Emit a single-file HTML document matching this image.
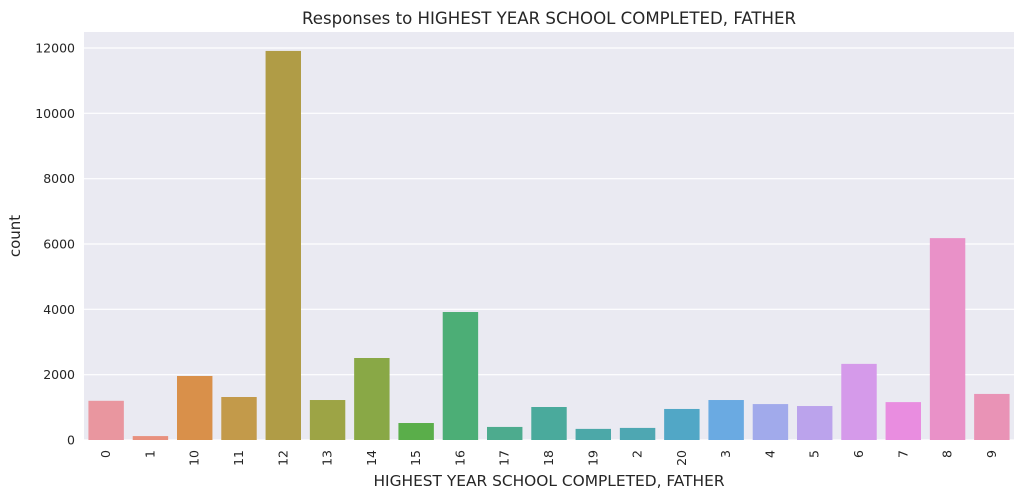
<!DOCTYPE html>
<html><head><meta charset="utf-8"><style>
body{margin:0;background:#fff;font-family:"Liberation Sans","DejaVu Sans",sans-serif;}
svg text{font-family:"DejaVu Sans","Liberation Sans",sans-serif;}
</style></head><body>
<svg id="chart" width="1024" height="498" xmlns="http://www.w3.org/2000/svg">
<rect x="84" y="32" width="930" height="408" fill="#eaeaf2"/>
<g id="grid"></g><g id="bars"></g><g id="xt"></g><g id="yt"></g>
<text x="549" y="24" text-anchor="middle" font-size="16.6" fill="#262626">Responses to HIGHEST YEAR SCHOOL COMPLETED, FATHER</text>
<text x="549" y="486" text-anchor="middle" font-size="15.4" fill="#262626">HIGHEST YEAR SCHOOL COMPLETED, FATHER</text>
<text transform="translate(20,236) rotate(-90)" text-anchor="middle" font-size="15" fill="#262626">count</text>
</svg>
<script>
const categories=["0","1","10","11","12","13","14","15","16","17","18","19","2","20","3","4","5","6","7","8","9"];
const counts=[1200,120,1960,1316,11910,1224,2510,520,3918,400,1010,340,370,950,1224,1100,1040,2330,1160,6180,1410];
const colors=["#e9969f","#e8907e","#d9904a","#c39a4a","#b09c46","#9da445","#89a846","#5aae4a","#4cae76","#4dab8e","#4aaa9c","#4ca8a8","#4ea7b2","#51a7c6","#6aaae2","#a1aaeb","#bba3ec","#d59aea","#e98de0","#e991c8","#e993b6"];
const yTicks=[0,2000,4000,6000,8000,10000,12000];
const NS="http://www.w3.org/2000/svg";
const x0=84,pw=930,y0=440,ph=392,ymax=12000;
const band=pw/categories.length;
const xs=i=>x0+band*i;
const ys=v=>y0-v/ymax*ph;
function mk(t,a,p){const e=document.createElementNS(NS,t);for(const k in a)e.setAttribute(k,a[k]);document.getElementById(p).appendChild(e);return e;}
yTicks.forEach(v=>{
 const l=mk("line",{x1:x0,x2:x0+pw,y1:ys(v),y2:ys(v),stroke:"#fff","stroke-width":1.2},"grid");
 
 
 const t=mk("text",{x:x0-9,y:ys(v)+4.5,"text-anchor":"end","font-size":12.5,fill:"#262626"},"yt");
 t.textContent=v;
 
 
});
categories.forEach((c,i)=>{
 const w=band*0.8;
 const r=mk("rect",{x:xs(i)+band*0.1,y:ys(counts[i]),width:w,height:y0-ys(counts[i]),fill:colors[i]},"bars");
 
 
 const cx=xs(i)+band/2;
 const t=mk("text",{transform:`translate(${cx+4},${y0+10}) rotate(-90)`,"text-anchor":"end","font-size":12.5,fill:"#262626"},"xt");
 t.textContent=c;
 
 
});
</script>
</body></html>
